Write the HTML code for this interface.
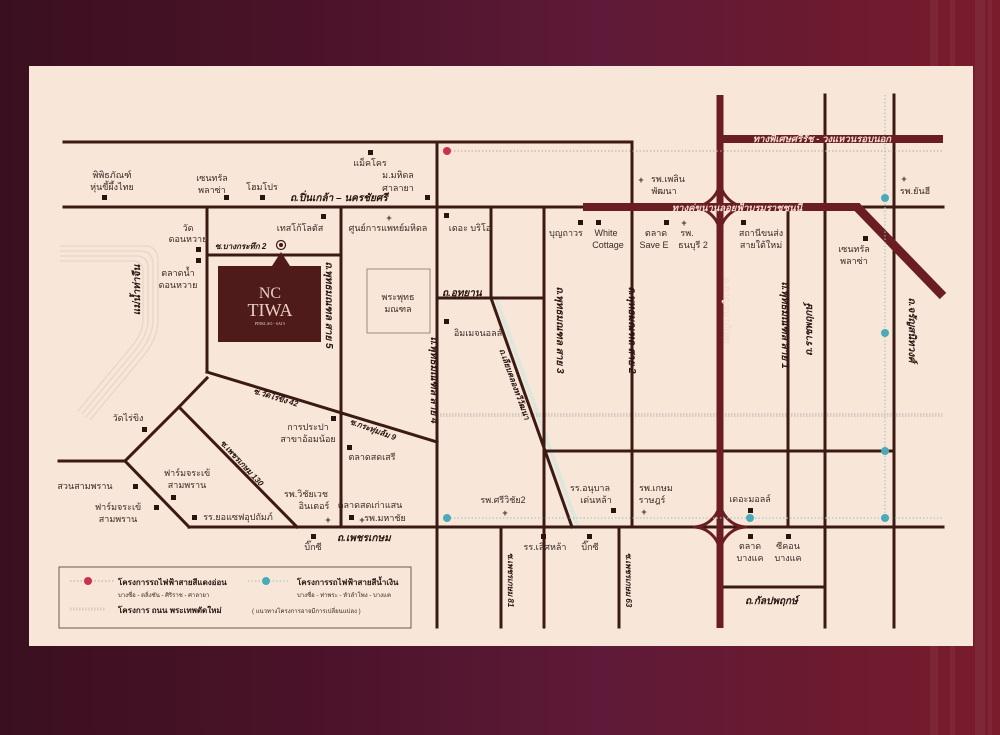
<!DOCTYPE html>
<html><head><meta charset="utf-8"><style>
html,body{margin:0;padding:0}
body{width:1000px;height:735px;overflow:hidden;background:linear-gradient(90deg,#3a1020 0%,#4a1228 30%,#5e1a38 60%,#6a1a30 80%,#7a1c2c 100%);position:relative;font-family:"Liberation Sans",sans-serif}
.st{position:absolute;top:0;bottom:0;width:8px;background:rgba(255,255,255,0.05)}
svg{position:absolute;left:0;top:0}
text{font-family:"Liberation Sans","DejaVu Sans",sans-serif;font-size:9px;fill:#3a2a24}
.b{font-weight:bold;font-style:italic;fill:#2a1410;font-size:10px}
.w{font-weight:bold;font-style:italic;fill:#f3dccf;font-size:9.5px}
</style></head><body>
<div class="st" style="left:930px"></div><div class="st" style="left:950px;width:5px"></div><div class="st" style="left:975px;width:10px"></div><div class="st" style="left:988px;width:4px"></div>
<svg width="1000" height="735" viewBox="0 0 1000 735">
<rect x="29" y="66" width="944" height="580" fill="#f8e6d9"/>
<g fill="none" stroke="#e4d6c8" stroke-width="1.2">
<path d="M60,246 H145 Q158,246 158,262 V320 Q158,340 140,360 L90,420"/>
<path d="M60,251 H140 Q153,251 153,265 V320 Q153,338 136,357 L86,417"/>
<path d="M60,256 H136 Q148,256 148,268 V320 Q148,336 132,354 L82,414"/>
<path d="M60,261 H132 Q143,261 143,271 V320 Q143,334 128,351 L78,411"/>
</g>
<line x1="496" y1="298" x2="578" y2="527" stroke="#dfe6dc" stroke-width="4"/>
<line x1="440" y1="415" x2="943" y2="415" stroke="#d8ccc4" stroke-width="4" stroke-dasharray="1.5 1.5"/>
<g stroke="#3b1a14" stroke-width="3" fill="none" stroke-linecap="square">
<polyline points="64,142 632,142 632,207"/>
<line x1="64" y1="207" x2="943" y2="207"/>
<line x1="207" y1="207" x2="207" y2="372"/>
<line x1="207" y1="255" x2="340" y2="255"/>
<line x1="341" y1="207" x2="341" y2="527"/>
<line x1="437" y1="142" x2="437" y2="627"/>
<line x1="491" y1="207" x2="491" y2="298"/>
<line x1="437" y1="298" x2="544" y2="298"/>
<line x1="544" y1="207" x2="544" y2="627"/>
<line x1="491" y1="298" x2="572" y2="527"/>
<line x1="632" y1="207" x2="632" y2="527"/>
<line x1="788" y1="207" x2="788" y2="527"/>
<line x1="825" y1="95" x2="825" y2="627"/>
<line x1="894" y1="95" x2="894" y2="627"/>
<line x1="544" y1="451" x2="893" y2="451"/>
<line x1="207" y1="372" x2="437" y2="442"/>
<line x1="189" y1="527" x2="943" y2="527"/>
<line x1="59" y1="461" x2="125" y2="461"/>
<polyline points="189,527 125,461 179,407 207,378"/>
<line x1="179" y1="407" x2="297" y2="527"/>
<line x1="501" y1="527" x2="501" y2="627"/>
<line x1="619" y1="527" x2="619" y2="627"/>
<line x1="720" y1="587" x2="825" y2="587"/>
</g>
<g stroke="#6b1e22" fill="none">
<line x1="583" y1="207" x2="860" y2="207" stroke-width="8"/>
<line x1="720" y1="95" x2="720" y2="628" stroke-width="7"/>
<line x1="720" y1="139" x2="943" y2="139" stroke-width="8"/>
<line x1="857" y1="207" x2="943" y2="296" stroke-width="9"/>
<path d="M720,179 A28,28 0 0 1 692,207 A28,28 0 0 1 720,235 A28,28 0 0 1 748,207 A28,28 0 0 1 720,179" stroke-width="3"/>
<path d="M720,500 A27,27 0 0 1 693,527 A27,27 0 0 1 720,554 A27,27 0 0 1 747,527 A27,27 0 0 1 720,500" stroke-width="3"/>
</g>
<rect x="367" y="269" width="63" height="64" fill="none" stroke="#9a8a80" stroke-width="1"/>
<rect x="218" y="266" width="103" height="76" fill="#4e1a1a"/>
<polygon points="272,266 290,266 281,252" fill="#4e1a1a"/>
<circle cx="281" cy="245" r="4.5" fill="none" stroke="#3b1a14" stroke-width="1.2"/><circle cx="281" cy="245" r="2" fill="#3b1a14"/>
<text x="270" y="298" text-anchor="middle" style="font-family:'Liberation Serif',serif;font-size:16px;fill:#e8d0c0">NC</text>
<text x="270" y="316" text-anchor="middle" style="font-family:'Liberation Serif',serif;font-size:18px;fill:#e8d0c0">TIWA</text>
<text x="270" y="325" text-anchor="middle" style="font-family:'Liberation Serif',serif;font-size:4px;fill:#e8d0c0">PINKLAO - SAI 5</text>
<line x1="447" y1="151" x2="943" y2="151" stroke="#b8a8a0" stroke-width="1" stroke-dasharray="1.5 2"/>
<circle cx="447" cy="151" r="4" fill="#c8324a"/>
<line x1="885" y1="95" x2="885" y2="518" stroke="#8cc4c8" stroke-width="1" stroke-dasharray="1.5 2"/>
<line x1="447" y1="518" x2="943" y2="518" stroke="#8cc4c8" stroke-width="1" stroke-dasharray="1.5 2"/>
<g fill="#4aaab8"><circle cx="885" cy="198" r="4"/><circle cx="885" cy="333" r="4"/><circle cx="885" cy="451" r="4"/><circle cx="885" cy="518" r="4"/><circle cx="750" cy="518" r="4"/><circle cx="447" cy="518" r="4"/></g>
<g fill="#2a1410">
<rect x="102" y="195" width="5" height="5"/><rect x="224" y="195" width="5" height="5"/><rect x="260" y="195" width="5" height="5"/><rect x="368" y="150" width="5" height="5"/><rect x="425" y="195" width="5" height="5"/>
<rect x="321" y="214" width="5" height="5"/><rect x="444" y="213" width="5" height="5"/><rect x="196" y="247" width="5" height="5"/><rect x="196" y="258" width="5" height="5"/><rect x="444" y="319" width="5" height="5"/>
<rect x="578" y="220" width="5" height="5"/><rect x="596" y="220" width="5" height="5"/><rect x="664" y="220" width="5" height="5"/><rect x="741" y="220" width="5" height="5"/><rect x="863" y="236" width="5" height="5"/>
<rect x="142" y="427" width="5" height="5"/><rect x="331" y="416" width="5" height="5"/><rect x="347" y="445" width="5" height="5"/><rect x="133" y="484" width="5" height="5"/><rect x="171" y="495" width="5" height="5"/><rect x="154" y="505" width="5" height="5"/><rect x="192" y="515" width="5" height="5"/><rect x="349" y="515" width="5" height="5"/><rect x="311" y="534" width="5" height="5"/>
<rect x="541" y="534" width="5" height="5"/><rect x="587" y="534" width="5" height="5"/><rect x="611" y="508" width="5" height="5"/><rect x="748" y="508" width="5" height="5"/><rect x="748" y="534" width="5" height="5"/><rect x="786" y="534" width="5" height="5"/>
</g>
<g style="font-size:14px;font-weight:bold;fill:#2a1410" text-anchor="middle">
<text x="389" y="221">+</text><text x="641" y="183">+</text><text x="684" y="226">+</text><text x="904" y="182">+</text><text x="328" y="523">+</text><text x="362" y="523">+</text><text x="505" y="516">+</text><text x="644" y="515">+</text>
</g>
<g text-anchor="middle">
<text x="112" y="178">พิพิธภัณฑ์</text><text x="112" y="190">หุ่นขี้ผึ้งไทย</text>
<text x="212" y="181">เซนทรัล</text><text x="212" y="193">พลาซ่า</text><text x="262" y="190">โฮมโปร</text>
<text x="370" y="166">แม็คโคร</text><text x="398" y="178">ม.มหิดล</text><text x="398" y="191">ศาลายา</text>
<text x="300" y="231">เทสโก้โลตัส</text><text x="388" y="231">ศูนย์การแพทย์มหิดล</text><text x="470" y="231">เดอะ บริโอ</text>
<text x="188" y="231">วัด</text><text x="188" y="242">ดอนหวาย</text><text x="178" y="276">ตลาดน้ำ</text><text x="178" y="288">ดอนหวาย</text>
<text x="398" y="300">พระพุทธ</text><text x="398" y="312">มณฑล</text><text x="478" y="336">อิมเมจนอลล์</text>
<text x="566" y="236">บุญถาวร</text><text x="606" y="236">White</text><text x="608" y="248">Cottage</text>
<text x="656" y="236">ตลาด</text><text x="654" y="248">Save E</text><text x="687" y="236">รพ.</text><text x="693" y="248">ธนบุรี 2</text>
<text x="668" y="182">รพ.เพลิน</text><text x="664" y="194">พัฒนา</text>
<text x="761" y="236">สถานีขนส่ง</text><text x="761" y="248">สายใต้ใหม่</text>
<text x="854" y="252">เซนทรัล</text><text x="854" y="264">พลาซ่า</text><text x="915" y="194">รพ.ยันฮี</text>
<text x="128" y="421">วัดไร่ขิง</text><text x="308" y="430">การประปา</text><text x="308" y="442">สาขาอ้อมน้อย</text>
<text x="372" y="460">ตลาดสดเสรี</text><text x="85" y="489">สวนสามพราน</text>
<text x="187" y="476">ฟาร์มจระเข้</text><text x="187" y="488">สามพราน</text><text x="118" y="510">ฟาร์มจระเข้</text><text x="118" y="522">สามพราน</text>
<text x="238" y="520">รร.ยอแซฟอุปถัมภ์</text><text x="306" y="497">รพ.วิชัยเวช</text><text x="314" y="509">อินเตอร์</text>
<text x="370" y="508">ตลาดสดเก่าแสน</text><text x="385" y="521">รพ.มหาชัย</text><text x="313" y="550">บิ๊กซี</text>
<text x="503" y="503">รพ.ศรีวิชัย2</text><text x="545" y="550">รร.เลิศหล้า</text><text x="590" y="550">บิ๊กซี</text>
<text x="590" y="491">รร.อนุบาล</text><text x="596" y="503">เด่นหล้า</text><text x="656" y="491">รพ.เกษม</text><text x="652" y="503">ราษฎร์</text>
<text x="750" y="502">เดอะมอลล์</text><text x="750" y="549">ตลาด</text><text x="750" y="561">บางแค</text><text x="788" y="549">ซีคอน</text><text x="788" y="561">บางแค</text>
</g>
<text class="b" x="290" y="201">ถ.ปิ่นเกล้า – นครชัยศรี</text>
<text class="b" x="215" y="249" style="font-size:8px">ซ.บางกระทึก 2</text>
<text class="b" x="442" y="296">ถ.อุทยาน</text>
<text class="b" x="337" y="541">ถ.เพชรเกษม</text>
<text class="b" x="745" y="604">ถ.กัลปพฤกษ์</text>
<text class="w" x="737" y="211" text-anchor="middle">ทางคู่ขนานลอยฟ้าบรมราชชนนี</text>
<text class="w" x="822" y="142" text-anchor="middle">ทางพิเศษศรีรัช - วงแหวนรอบนอก</text>
<g>
<text class="b" transform="translate(140,290) rotate(-90)" text-anchor="middle">แม่น้ำท่าจีน</text>
<text class="b" transform="translate(326,305) rotate(90)" text-anchor="middle">ถ.พุทธมณฑล สาย 5</text>
<text class="b" transform="translate(431,380) rotate(90)" text-anchor="middle">ถ.พุทธมณฑล สาย 4</text>
<text class="b" transform="translate(557,330) rotate(90)" text-anchor="middle">ถ.พุทธมณฑล สาย 3</text>
<text class="b" transform="translate(629,330) rotate(90)" text-anchor="middle">ถ.พุทธมณฑล สาย 2</text>
<text class="w" transform="translate(724,310) rotate(90)" text-anchor="middle">ถ.กาญจนาภิเษก</text>
<text class="b" transform="translate(782,325) rotate(90)" text-anchor="middle">ถ.พุทธมณฑล สาย 1</text>
<text class="b" transform="translate(812,330) rotate(-90)" text-anchor="middle">ถ.ราชพฤกษ์</text>
<text class="b" transform="translate(909,330) rotate(90)" text-anchor="middle">ถ.จรัญสนิทวงศ์</text>
<text class="b" transform="translate(512,385) rotate(70)" text-anchor="middle" style="font-size:8px">ถ.เลียบคลองทวีวัฒนา</text>
<text class="b" transform="translate(275,400) rotate(17)" text-anchor="middle" style="font-size:8px">ซ.วัดไร่ขิง 42</text>
<text class="b" transform="translate(372,432) rotate(20)" text-anchor="middle" style="font-size:8px">ซ.กระทุ่มล้ม 9</text>
<text class="b" transform="translate(240,465) rotate(47)" text-anchor="middle" style="font-size:8px">ซ.เพชรเกษม 130</text>
<text class="b" transform="translate(508,580) rotate(90)" text-anchor="middle" style="font-size:8px">ซ.เพชรเกษม 81</text>
<text class="b" transform="translate(626,580) rotate(90)" text-anchor="middle" style="font-size:8px">ซ.เพชรเกษม 63</text>
</g>
<rect x="59" y="567" width="352" height="61" fill="none" stroke="#6a5a52" stroke-width="1"/>
<line x1="70" y1="581" x2="114" y2="581" stroke="#b8a8a0" stroke-dasharray="1.5 2"/><circle cx="88" cy="581" r="4" fill="#c8324a"/>
<line x1="248" y1="581" x2="290" y2="581" stroke="#8cc4c8" stroke-dasharray="1.5 2"/><circle cx="266" cy="581" r="4" fill="#4aaab8"/>
<line x1="70" y1="609" x2="106" y2="609" stroke="#d8ccc4" stroke-width="3" stroke-dasharray="1.5 1.5"/>
<text x="118" y="585" style="font-weight:bold;font-size:8px;fill:#2a1410">โครงการรถไฟฟ้าสายสีแดงอ่อน</text>
<text x="118" y="597" style="font-size:6px">บางซื่อ - ตลิ่งชัน - ศิริราช - ศาลายา</text>
<text x="297" y="585" style="font-weight:bold;font-size:8px;fill:#2a1410">โครงการรถไฟฟ้าสายสีน้ำเงิน</text>
<text x="297" y="597" style="font-size:6px">บางซื่อ - ท่าพระ - หัวลำโพง - บางแค</text>
<text x="118" y="613" style="font-weight:bold;font-size:8px;fill:#2a1410">โครงการ ถนน พระเทพตัดใหม่</text>
<text x="252" y="613" style="font-size:6px">( แนวทางโครงการอาจมีการเปลี่ยนแปลง )</text>
</svg>
</body></html>
